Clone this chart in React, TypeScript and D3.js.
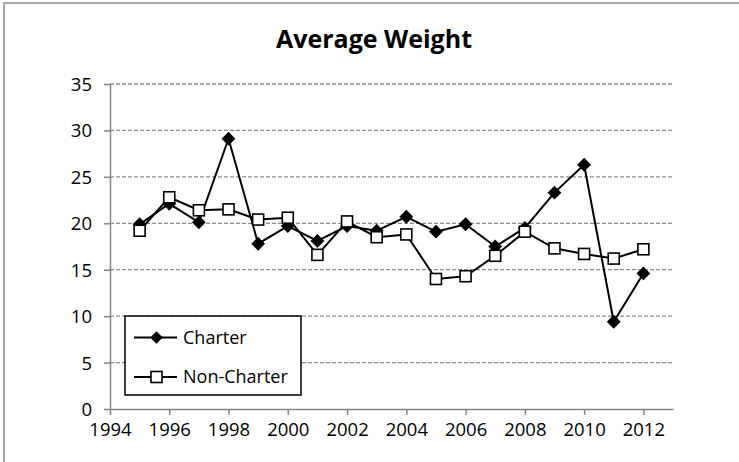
import * as d3 from 'd3'
import { useRef, useEffect } from 'react'

const years = [1995, 1996, 1997, 1998, 1999, 2000, 2001, 2002, 2003, 2004, 2005, 2006, 2007, 2008, 2009, 2010, 2011, 2012]
const charter = [19.9, 22.1, 20.1, 29.1, 17.8, 19.7, 18.1, 19.7, 19.2, 20.7, 19.1, 19.9, 17.5, 19.5, 23.3, 26.3, 9.4, 14.6]
const nonCharter = [19.2, 22.8, 21.4, 21.5, 20.4, 20.6, 16.6, 20.2, 18.5, 18.8, 14.0, 14.3, 16.5, 19.1, 17.3, 16.7, 16.2, 17.2]
const xTicks = [1994, 1996, 1998, 2000, 2002, 2004, 2006, 2008, 2010, 2012]
const yTicks = [0, 5, 10, 15, 20, 25, 30, 35]
const seriesNames = ['Charter', 'Non-Charter']

const width = 739
const height = 462
const margin = { top: 84, right: 66, bottom: 53, left: 110 }
const font = "'Open Sans', sans-serif"

export default function App() {
  const svgRef = useRef(null)

  useEffect((): void => {
    const svg = d3.select(svgRef.current)
    svg.selectAll('*').remove()

    const x = d3.scaleLinear().domain([1994, 2013]).range([margin.left, width - margin.right])
    const y = d3.scaleLinear().domain([0, 35]).range([height - margin.bottom, margin.top])

    // outer frame (only top and left edges are visible in the crop)
    svg.append('path')
      .attr('d', `M4,${height} V3 H${width}`)
      .attr('fill', 'none')
      .attr('stroke', '#a6a6a6')
      .attr('stroke-width', 2)

    svg.append('text')
      .attr('x', 374)
      .attr('y', 48)
      .attr('text-anchor', 'middle')
      .attr('font-family', font)
      .attr('font-weight', 700)
      .attr('font-size', 25)
      .text('Average Weight')

    // gridlines
    svg.append('g')
      .selectAll('line')
      .data(yTicks.filter(d => d > 0))
      .enter()
      .append('line')
      .attr('x1', x(1994))
      .attr('x2', x(2013))
      .attr('y1', d => y(d))
      .attr('y2', d => y(d))
      .attr('stroke', '#8c8c8c')
      .attr('stroke-width', 1.3)
      .attr('stroke-dasharray', '4,2')

    const yAxis = d3.axisLeft(y).tickValues(yTicks).tickSize(6).tickSizeOuter(0).tickPadding(12)
    const xAxis = d3.axisBottom(x).tickValues(xTicks).tickSize(6).tickSizeOuter(0).tickPadding(8).tickFormat(d3.format('d'))

    const gy = svg.append('g')
      .attr('transform', `translate(${margin.left},0)`)
      .call(yAxis)
    const gx = svg.append('g')
      .attr('transform', `translate(0,${height - margin.bottom})`)
      .call(xAxis)

    for (const g of [gx, gy]) {
      g.select('.domain').attr('stroke', '#868686').attr('stroke-width', 1.5)
      g.selectAll('.tick line').attr('stroke', '#868686').attr('stroke-width', 1.5)
      g.selectAll('.tick text')
        .attr('font-family', font)
        .attr('font-size', 18.5)
        .attr('fill', '#000')
    }
    gy.selectAll('.tick text').attr('dy', '0.35em')
    gx.selectAll('.tick text').attr('dy', '0.71em')

    const line = d3.line<number>()
      .x((d, i) => x(years[i]))
      .y(d => y(d))

    const diamond = d3.symbol().type(d3.symbolSquare).size(96)

    // Charter
    svg.append('path')
      .datum(charter)
      .attr('d', line)
      .attr('fill', 'none')
      .attr('stroke', '#000')
      .attr('stroke-width', 2)
    svg.append('g')
      .selectAll('path')
      .data(charter)
      .enter()
      .append('path')
      .attr('d', diamond)
      .attr('transform', (d, i) => `translate(${x(years[i])},${y(d)}) rotate(45)`)
      .attr('fill', '#000')

    // Non-Charter
    svg.append('path')
      .datum(nonCharter)
      .attr('d', line)
      .attr('fill', 'none')
      .attr('stroke', '#000')
      .attr('stroke-width', 2)
    svg.append('g')
      .selectAll('rect')
      .data(nonCharter)
      .enter()
      .append('rect')
      .attr('x', (d, i) => x(years[i]) - 5.5)
      .attr('y', d => y(d) - 5.5)
      .attr('width', 11)
      .attr('height', 11)
      .attr('fill', '#fff')
      .attr('stroke', '#000')
      .attr('stroke-width', 1.6)

    // legend
    const legend = svg.append('g').attr('transform', 'translate(125,316)')
    legend.append('rect')
      .attr('width', 176)
      .attr('height', 79)
      .attr('fill', '#fff')
      .attr('stroke', '#000')
      .attr('stroke-width', 1.5)
    seriesNames.forEach((name, i) => {
      const cy = 21.5 + i * 39.5
      legend.append('line')
        .attr('x1', 9).attr('x2', 52)
        .attr('y1', cy).attr('y2', cy)
        .attr('stroke', '#000')
        .attr('stroke-width', 2)
      if (i === 0) {
        legend.append('path')
          .attr('d', d3.symbol().type(d3.symbolSquare).size(80)())
          .attr('transform', `translate(31.5,${cy}) rotate(45)`)
          .attr('fill', '#000')
      } else {
        legend.append('rect')
          .attr('x', 26).attr('y', cy - 5.5)
          .attr('width', 11).attr('height', 11)
          .attr('fill', '#fff')
          .attr('stroke', '#000')
          .attr('stroke-width', 1.6)
      }
      legend.append('text')
        .attr('x', 58)
        .attr('y', cy)
        .attr('dy', '0.35em')
        .attr('font-family', font)
        .attr('font-size', 18)
        .text(name)
    })
  }, [])

  return (
    <svg
      ref={svgRef}
      width={width}
      height={height}
      style={{ position: 'absolute', left: 0, top: 0, background: '#fff' }}
    />
  )
}
